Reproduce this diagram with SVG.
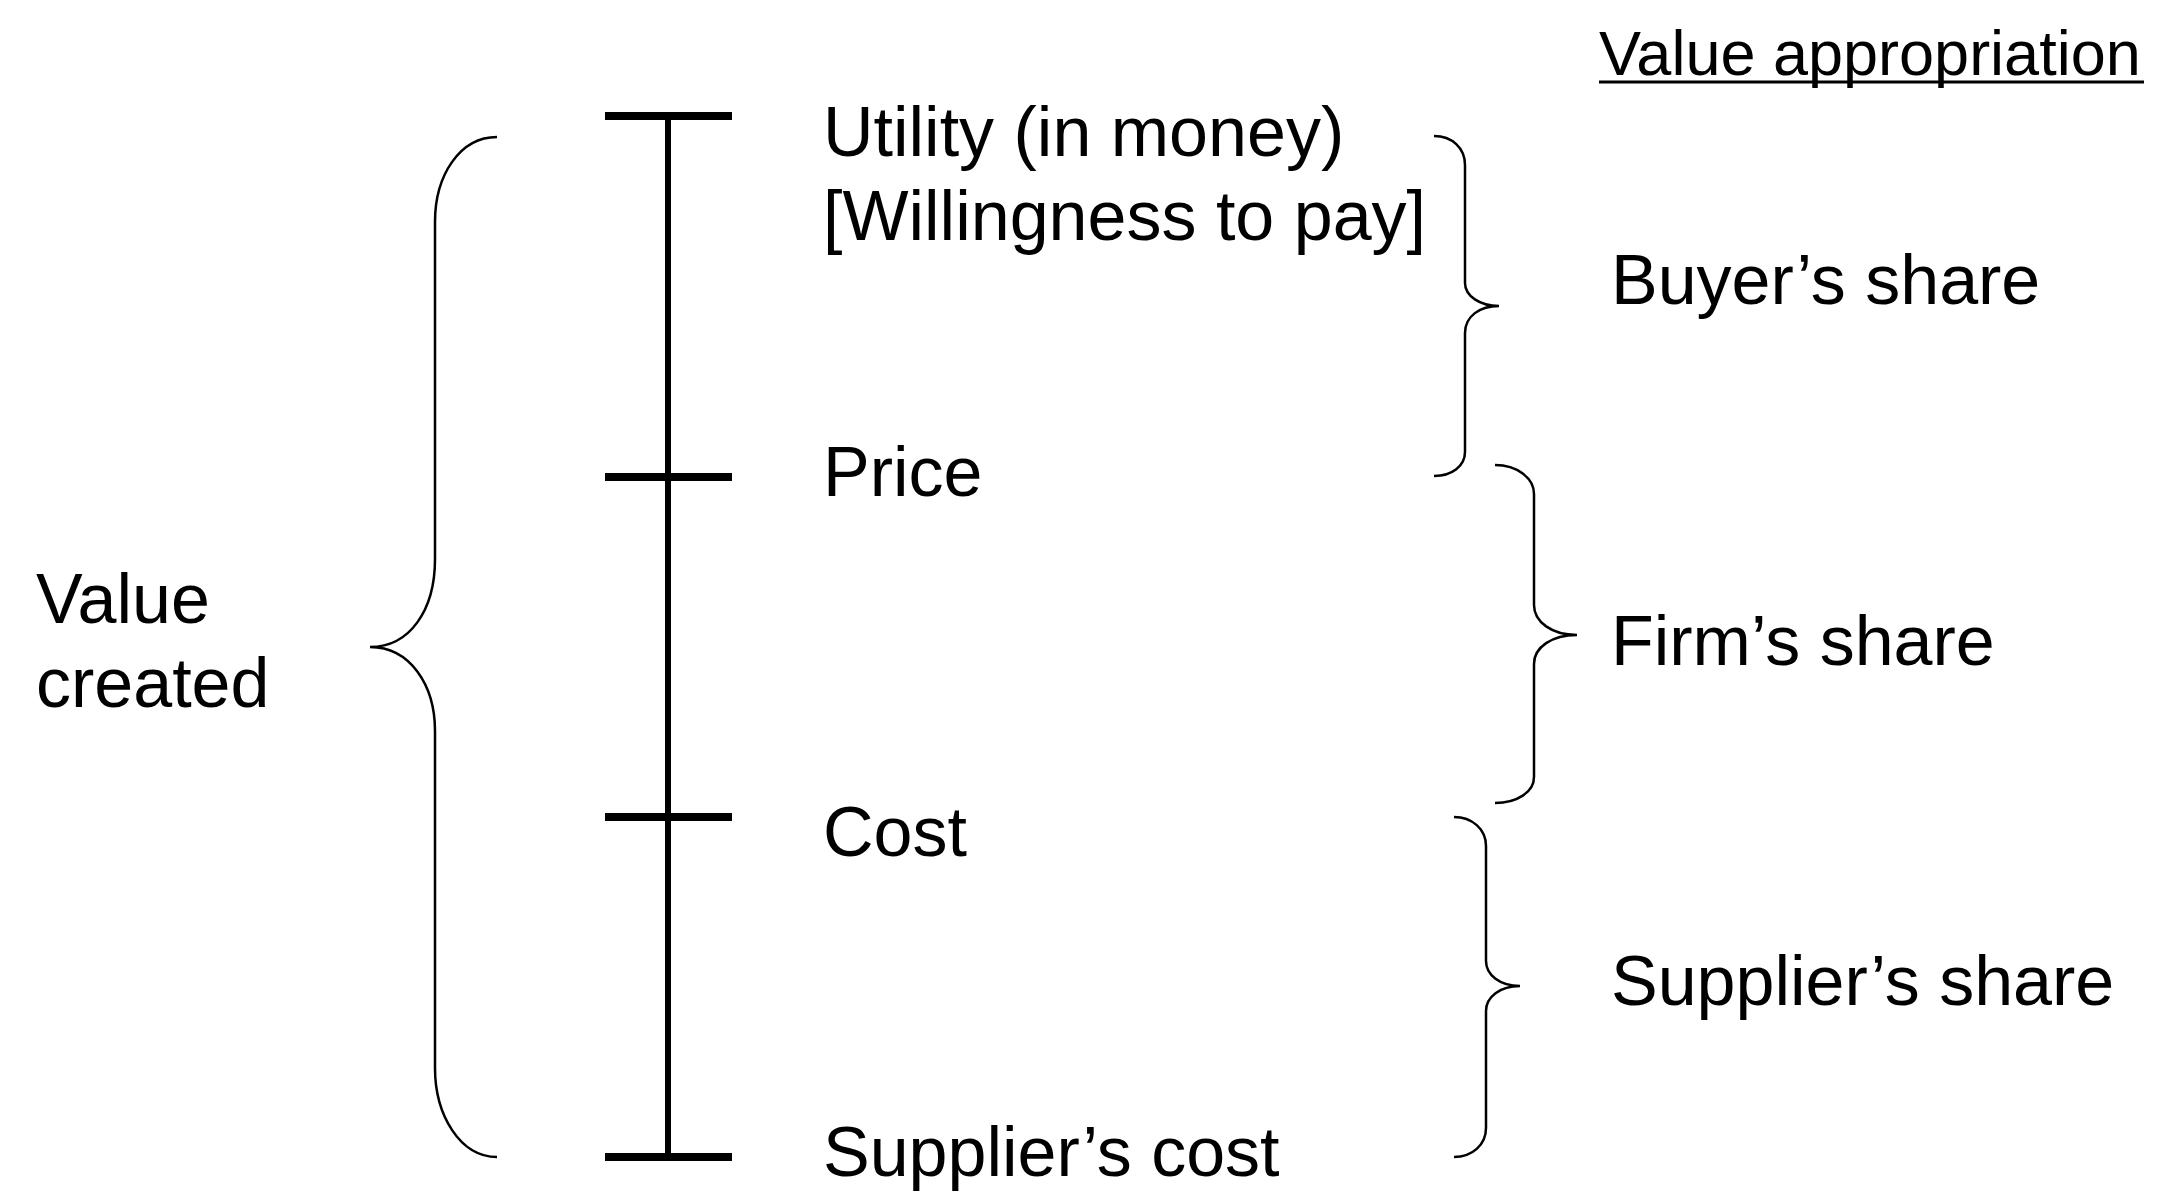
<svg xmlns="http://www.w3.org/2000/svg" width="2180" height="1202" viewBox="0 0 2180 1202">
<style>
.t{font-family:"Liberation Sans",Arial,sans-serif;font-size:70px;fill:#000}
.h{font-family:"Liberation Sans",Arial,sans-serif;font-size:63px;fill:#000}
.brace{fill:none;stroke:#000;stroke-width:2.5}
.axis{stroke:#000;stroke-width:6}
.tick{stroke:#000;stroke-width:8}
</style>
<rect width="2180" height="1202" fill="#fff"/>
<g id="scale">
<line class="axis" x1="668" y1="116" x2="668" y2="1157"/>
<line class="tick" x1="605" y1="116" x2="732" y2="116"/>
<line class="tick" x1="605" y1="477" x2="732" y2="477"/>
<line class="tick" x1="605" y1="817" x2="732" y2="817"/>
<line class="tick" x1="605" y1="1157" x2="732" y2="1157"/>
</g>
<g id="connectors">
<path id="brace-value" class="brace" d="M497,137 C460,137 435,175 435,222 L435,559 C435,610 410,647 370,647 C410,647 435,685 435,731 L435,1068 C435,1115 460,1157 497,1157"/>
<path id="brace-buyer" class="brace" d="M1434,136 C1452,136 1465,148 1465,165 L1465,283 C1465,296 1480,306 1499,306 C1480,306 1465,316 1465,333 L1465,452 C1465,466 1452,476 1434,476"/>
<path id="brace-firm" class="brace" d="M1495,465 C1517,465 1534,478 1534,494 L1534,605 C1534,622 1552,635 1577,635 C1552,635 1534,647 1534,664 L1534,777 C1534,792 1517,803 1495,803"/>
<path id="brace-supplier" class="brace" d="M1454,817 C1472,817 1486,829 1486,846 L1486,961 C1486,975 1500,986 1520,986 C1500,986 1486,997 1486,1011 L1486,1128 C1486,1145 1472,1157 1454,1157"/>
</g>
<g id="value-created"><text class="t" x="36" y="623">Value</text><text class="t" x="36" y="707">created</text></g>
<g id="utility"><text class="t" x="823" y="156">Utility (in money)</text><text class="t" x="823" y="240">[Willingness to pay]</text></g>
<g id="price"><text class="t" x="823" y="496">Price</text></g>
<g id="cost"><text class="t" x="823" y="856">Cost</text></g>
<g id="supplier-cost"><text class="t" x="823" y="1176">Supplier’s cost</text></g>
<g id="value-appropriation"><text class="h" x="1599" y="75">Value appropriation</text><line x1="1599" y1="82" x2="2144" y2="82" stroke="#000" stroke-width="3"/></g>
<g id="buyer-share"><text class="t" x="1611" y="304">Buyer’s share</text></g>
<g id="firm-share"><text class="t" x="1611" y="665">Firm’s share</text></g>
<g id="supplier-share"><text class="t" x="1611" y="1005">Supplier’s share</text></g>
</svg>
